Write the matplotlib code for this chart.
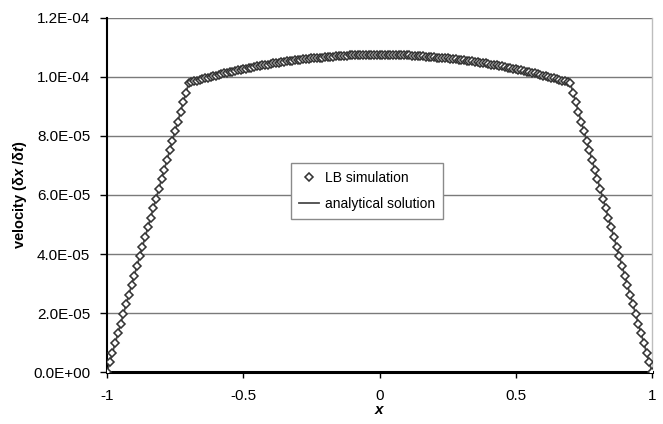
import matplotlib
matplotlib.use("Agg")
import matplotlib.pyplot as plt
import numpy as np

plt.rcParams['font.family'] = ['Liberation Sans', 'DejaVu Sans']
plt.rcParams['mathtext.fontset'] = 'custom'
plt.rcParams['mathtext.it'] = 'Liberation Sans:bold:italic'
plt.rcParams['mathtext.rm'] = 'Liberation Sans:bold'

# ---- data (velocity in units of 1e-6) ----
lb_x = np.round(np.arange(-1.0, 1.0001, 0.01), 2)
lb_half = [0.0, 3.3, 6.5, 9.8, 13.1, 16.3, 19.6, 22.9, 26.1, 29.4,
           32.7, 35.9, 39.2, 42.5, 45.7, 49.0, 52.3, 55.5, 58.8, 62.1,
           65.3, 68.6, 71.9, 75.1, 78.4, 81.7, 84.9, 88.2, 91.5, 94.7,
           98.0, 98.3, 98.5, 98.8, 99.1, 99.3, 99.6, 99.8, 100.0, 100.3,
           100.5, 100.8, 101.0, 101.2, 101.4, 101.6, 101.8, 102.1, 102.3, 102.5,
           102.7, 102.8, 103.0, 103.2, 103.4, 103.6, 103.7, 103.9, 104.1, 104.2,
           104.4, 104.6, 104.7, 104.8, 105.0, 105.1, 105.3, 105.4, 105.5, 105.6,
           105.8, 105.9, 106.0, 106.1, 106.2, 106.3, 106.4, 106.5, 106.6, 106.6,
           106.7, 106.8, 106.9, 106.9, 107.0, 107.1, 107.1, 107.2, 107.2, 107.3,
           107.3, 107.3, 107.4, 107.4, 107.4, 107.5, 107.5, 107.5, 107.5, 107.5,
           107.5]
lb_v = np.array(lb_half + lb_half[-2::-1]) * 1e-6

an_x = np.round(np.arange(-1.0, 1.0001, 0.05), 2)
an_half = [0.0, 16.3, 32.7, 49.0, 65.3, 81.7, 98.0, 99.3, 100.5, 101.6,
           102.7, 103.6, 104.4, 105.1, 105.8, 106.3, 106.7, 107.1, 107.3, 107.5,
           107.5]
an_v = np.array(an_half + an_half[-2::-1]) * 1e-6

y_ticks = [0, 2e-5, 4e-5, 6e-5, 8e-5, 1e-4, 1.2e-4]
y_labels = ['0.0E+00', '2.0E-05', '4.0E-05', '6.0E-05', '8.0E-05', '1.0E-04', '1.2E-04']
x_ticks = [-1, -0.5, 0, 0.5, 1]
x_labels = ['-1', '-0.5', '0', '0.5', '1']

fig = plt.figure(figsize=(6.63, 4.24), dpi=100)
ax = fig.add_axes([0.1614, 0.1226, 0.822, 0.835])

for yv in y_ticks[1:]:
    ax.axhline(yv, color='#7a7a7a', lw=1.0, zorder=1)

ax.plot(an_x, an_v, '-', color='#4a4a4a', lw=1.3, zorder=2, label='analytical solution')
ax.plot(lb_x, lb_v, 'D', ms=4, mfc='white', mec='#333333', mew=1.15, zorder=3,
        label='LB simulation', linestyle='none')

ax.set_xlim(-1, 1)
ax.set_ylim(0, 1.2e-4)
ax.set_yticks(y_ticks)
ax.set_yticklabels(y_labels)
ax.set_xticks(x_ticks)
ax.set_xticklabels(x_labels)
ax.tick_params(axis='y', labelsize=11, length=5, width=1.0, color='black', pad=7)
ax.tick_params(axis='x', labelsize=11, length=4, width=1.0, color='black', pad=8)

ax.spines['left'].set_linewidth(1.5)
ax.spines['bottom'].set_linewidth(2.2)
ax.spines['top'].set_visible(False)
ax.spines['right'].set_color('#bdbdbd')
ax.spines['right'].set_linewidth(1.0)

ax.set_ylabel(r'velocity (δ$x$ /δ$t$)', fontsize=10.5, fontweight='bold', labelpad=3)
ax.set_xlabel(r'$x$', fontsize=11, labelpad=0)

handles, labels = ax.get_legend_handles_labels()
leg = ax.legend(handles[::-1], labels[::-1], loc='upper left', bbox_to_anchor=(0.3376, 0.590),
                fontsize=10, frameon=True, fancybox=False, framealpha=1.0,
                edgecolor='#8a8a8a', handlelength=1.5, handletextpad=0.4,
                borderpad=0.55, labelspacing=0.9, borderaxespad=0)
leg.get_frame().set_linewidth(1.0)
leg.set_zorder(5)

fig.savefig('out.png', dpi=100)
